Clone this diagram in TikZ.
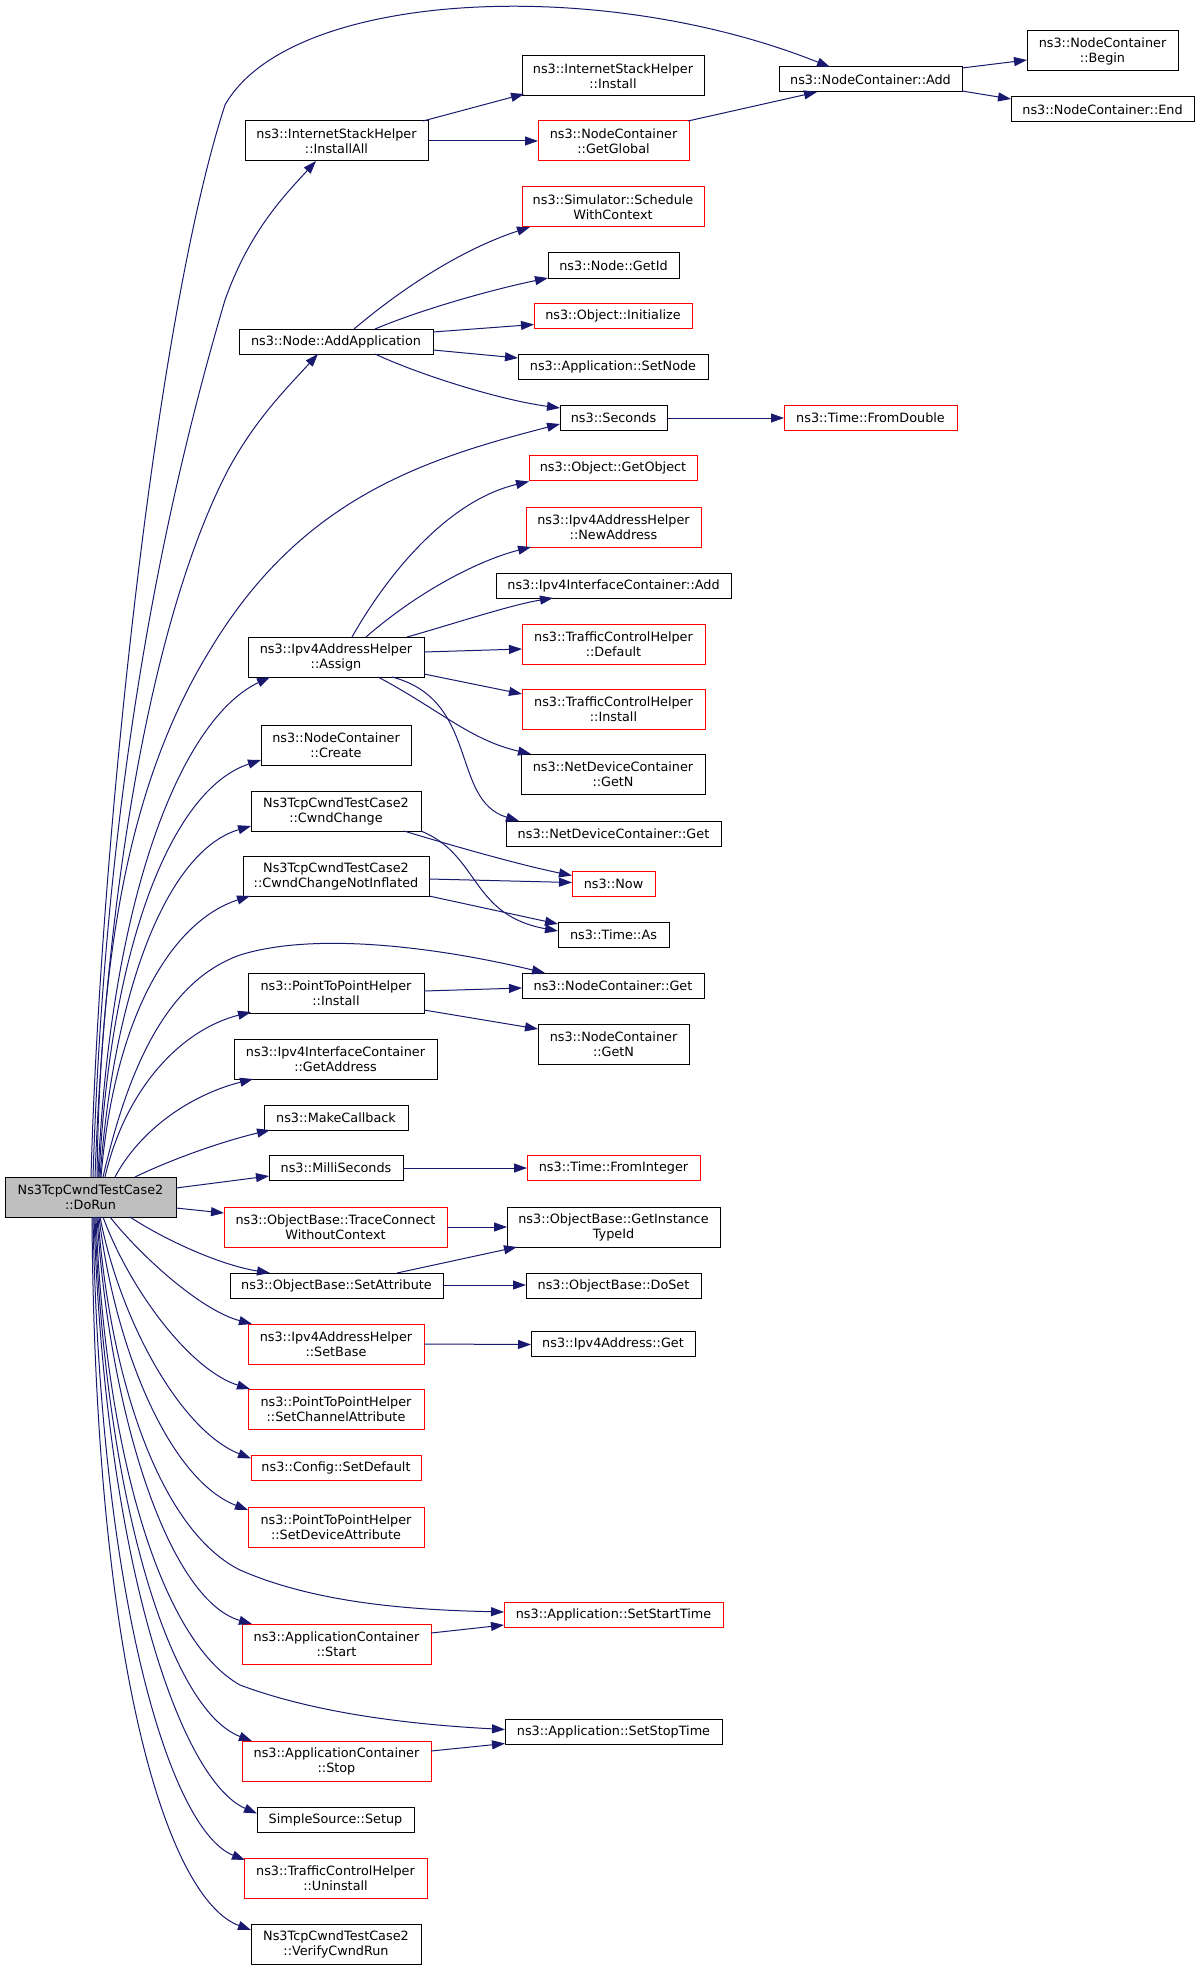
\documentclass[tikz,border=0pt]{standalone}
\usepackage{fontspec}
\setmainfont{DejaVu Sans}
\usetikzlibrary{arrows.meta}
\definecolor{edgeblue}{HTML}{191970}
\definecolor{boxred}{HTML}{FF0000}
\definecolor{rootgrey}{HTML}{BFBFBF}
\begin{document}
\begin{tikzpicture}[x=1pt,y=-1pt,
  box/.style={draw=black, line width=1pt, inner sep=0pt, outer sep=0pt, align=center,
    font=\fontsize{12.8}{15}\selectfont, fill=white},
  rbox/.style={box, draw=boxred},
  one/.style={minimum height=25pt},
  two/.style={minimum height=40pt},
  calledge/.style={draw=edgeblue, line width=1pt, -{Triangle[length=13pt,width=9pt]}}]
\fill[white] (0,0) rectangle (1200,1969);
\useasboundingbox (0,0) rectangle (1200,1969);

% nodes
\node[box,one,minimum width=183pt] (isAdd) at (870.5,79.5) {ns3::NodeContainer::Add};
\node[box,two,minimum width=151pt] (ncBegin) at (1102.5,51) {ns3::NodeContainer\\::Begin};
\node[box,one,minimum width=183pt] (ncEnd) at (1102.5,109.5) {ns3::NodeContainer::End};
\node[box,two,minimum width=182pt] (ishInstall) at (613,76) {ns3::InternetStackHelper\\::Install};
\node[box,two,minimum width=183pt] (installAll) at (336.5,141) {ns3::InternetStackHelper\\::InstallAll};
\node[rbox,two,minimum width=151pt] (getGlobal) at (613.5,141) {ns3::NodeContainer\\::GetGlobal};
\node[rbox,two,minimum width=182pt] (schedule) at (613,207) {ns3::Simulator::Schedule\\WithContext};
\node[box,one,minimum width=131pt] (getId) at (613.5,265.5) {ns3::Node::GetId};
\node[rbox,one,minimum width=158pt] (initialize) at (613,316) {ns3::Object::Initialize};
\node[box,one,minimum width=194pt] (addApp) at (336,341.5) {ns3::Node::AddApplication};
\node[box,one,minimum width=190pt] (setNode) at (613,366.5) {ns3::Application::SetNode};
\node[box,one,minimum width=107pt] (seconds) at (613.5,417.5) {ns3::Seconds};
\node[rbox,one,minimum width=173pt] (fromDouble) at (870.5,417.5) {ns3::Time::FromDouble};
\node[rbox,one,minimum width=168pt] (getObject) at (613,468) {ns3::Object::GetObject};
\node[rbox,two,minimum width=175pt] (newAddress) at (613.5,527) {ns3::Ipv4AddressHelper\\::NewAddress};
\node[box,one,minimum width=235pt] (iicAdd) at (613.5,585.5) {ns3::Ipv4InterfaceContainer::Add};
\node[rbox,two,minimum width=183pt] (tchDefault) at (613.5,644) {ns3::TrafficControlHelper\\::Default};
\node[box,two,minimum width=176pt] (assign) at (336,657) {ns3::Ipv4AddressHelper\\::Assign};
\node[rbox,two,minimum width=183pt] (tchInstall) at (613.5,709) {ns3::TrafficControlHelper\\::Install};
\node[box,two,minimum width=150pt] (create) at (336,745) {ns3::NodeContainer\\::Create};
\node[box,two,minimum width=184pt] (ndcGetN) at (613,774) {ns3::NetDeviceContainer\\::GetN};
\node[box,two,minimum width=170pt] (cwnd) at (336,811) {Ns3TcpCwndTestCase2\\::CwndChange};
\node[box,one,minimum width=215pt] (ndcGet) at (613.5,833.5) {ns3::NetDeviceContainer::Get};
\node[box,two,minimum width=186pt] (cwndNI) at (336,876) {Ns3TcpCwndTestCase2\\::CwndChangeNotInflated};
\node[rbox,one,minimum width=83pt] (now) at (613.5,884) {ns3::Now};
\node[box,one,minimum width=111pt] (timeAs) at (613.5,934.5) {ns3::Time::As};
\node[box,one,minimum width=182pt] (ncGet) at (613,985.5) {ns3::NodeContainer::Get};
\node[box,two,minimum width=176pt] (p2pInstall) at (336,993) {ns3::PointToPointHelper\\::Install};
\node[box,two,minimum width=151pt] (ncGetN) at (613.5,1044) {ns3::NodeContainer\\::GetN};
\node[box,two,minimum width=203pt] (getAddress) at (335.5,1059) {ns3::Ipv4InterfaceContainer\\::GetAddress};
\node[box,one,minimum width=144pt] (makeCallback) at (336,1117.5) {ns3::MakeCallback};
\node[box,one,minimum width=134pt] (milli) at (336,1167.5) {ns3::MilliSeconds};
\node[rbox,one,minimum width=173pt] (fromInteger) at (613.5,1167.5) {ns3::Time::FromInteger};
\node[box,two,minimum width=171pt,fill=rootgrey] (dorun) at (90.5,1197) {Ns3TcpCwndTestCase2\\::DoRun};
\node[rbox,two,minimum width=223pt] (traceConnect) at (335.5,1227) {ns3::ObjectBase::TraceConnect\\WithoutContext};
\node[box,two,minimum width=213pt] (getInstance) at (613.5,1227) {ns3::ObjectBase::GetInstance\\TypeId};
\node[box,one,minimum width=213pt] (setAttr) at (336.5,1285.5) {ns3::ObjectBase::SetAttribute};
\node[box,one,minimum width=175pt] (doSet) at (613.5,1285.5) {ns3::ObjectBase::DoSet};
\node[rbox,two,minimum width=176pt] (setBase) at (336,1344) {ns3::Ipv4AddressHelper\\::SetBase};
\node[box,one,minimum width=164pt] (ipv4Get) at (613,1344) {ns3::Ipv4Address::Get};
\node[rbox,two,minimum width=176pt] (setChan) at (336,1409) {ns3::PointToPointHelper\\::SetChannelAttribute};
\node[rbox,one,minimum width=170pt] (setDefault) at (336,1468) {ns3::Config::SetDefault};
\node[rbox,two,minimum width=176pt] (setDev) at (336,1527) {ns3::PointToPointHelper\\::SetDeviceAttribute};
\node[rbox,one,minimum width=219pt] (setStart) at (613.5,1614.5) {ns3::Application::SetStartTime};
\node[rbox,two,minimum width=189pt] (acStart) at (336.5,1644) {ns3::ApplicationContainer\\::Start};
\node[box,one,minimum width=217pt] (setStop) at (613.5,1732) {ns3::Application::SetStopTime};
\node[rbox,two,minimum width=189pt] (acStop) at (336.5,1761) {ns3::ApplicationContainer\\::Stop};
\node[box,one,minimum width=157pt] (setup) at (335.5,1820) {SimpleSource::Setup};
\node[rbox,two,minimum width=183pt] (uninstall) at (335.5,1878) {ns3::TrafficControlHelper\\::Uninstall};
\node[box,two,minimum width=170pt] (verify) at (336,1944) {Ns3TcpCwndTestCase2\\::VerifyCwndRun};

% edges from DoRun
\draw[calledge] ([shift={(86,0)}]dorun.north west) .. controls (100,850) and (155,320) .. (225,105)
  .. controls (290,-10) and (600,-25) .. ([shift={(51,0)}]isAdd.north west);
\draw[calledge] ([shift={(88,0)}]dorun.north west) .. controls (105,800) and (160,520) .. (225,300)
  .. controls (250,230) and (285,195) .. ([shift={(71,40)}]installAll.north west);
\draw[calledge] ([shift={(90,0)}]dorun.north west) .. controls (105,900) and (150,620) .. (228,470)
  .. controls (255,420) and (285,390) .. ([shift={(79,25)}]addApp.north west);
\draw[calledge] ([shift={(92,0)}]dorun.north west) .. controls (100,950) and (130,780) .. (210,650)
  .. controls (300,500) and (420,460) .. ([shift={(0,19)}]seconds.north west);
\draw[calledge] ([shift={(93,0)}]dorun.north west) .. controls (110,900) and (180,720) .. ([shift={(22,40)}]assign.north west);
\draw[calledge] ([shift={(94,0)}]dorun.north west) .. controls (110,950) and (170,790) .. ([shift={(0,35)}]create.north west);
\draw[calledge] ([shift={(95,0)}]dorun.north west) .. controls (115,980) and (170,850) .. ([shift={(0,35)}]cwnd.north west);
\draw[calledge] ([shift={(96,0)}]dorun.north west) .. controls (115,1010) and (175,920) .. ([shift={(7,40)}]cwndNI.north west);
\draw[calledge] ([shift={(98,0)}]dorun.north west) .. controls (130,1060) and (170,980) .. (240,955)
  .. controls (320,930) and (450,950) .. ([shift={(23,0)}]ncGet.north west);
\draw[calledge] ([shift={(100,0)}]dorun.north west) .. controls (125,1090) and (180,1030) .. ([shift={(3,39)}]p2pInstall.north west);
\draw[calledge] ([shift={(110,0)}]dorun.north west) .. controls (140,1130) and (190,1095) .. ([shift={(19,40)}]getAddress.north west);
\draw[calledge] ([shift={(130,0)}]dorun.north west) .. controls (170,1160) and (220,1142) .. ([shift={(6,25)}]makeCallback.north west);
\draw[calledge] ([shift={(171,11)}]dorun.north west) -- ([shift={(0,21)}]milli.north west);
\draw[calledge] ([shift={(171,31)}]dorun.north west) -- ([shift={(0,6)}]traceConnect.north west);
\draw[calledge] ([shift={(125,40)}]dorun.north west) .. controls (165,1240) and (220,1265) .. ([shift={(40,0)}]setAttr.north west);
\draw[calledge] ([shift={(105,40)}]dorun.north west) .. controls (140,1255) and (200,1310) .. ([shift={(4,0)}]setBase.north west);
\draw[calledge] ([shift={(98,40)}]dorun.north west) .. controls (130,1290) and (190,1370) .. ([shift={(2,0)}]setChan.north west);
\draw[calledge] ([shift={(95,40)}]dorun.north west) .. controls (120,1320) and (180,1430) .. ([shift={(0,3)}]setDefault.north west);
\draw[calledge] ([shift={(94,40)}]dorun.north west) .. controls (115,1350) and (170,1480) .. ([shift={(0,3)}]setDev.north west);
\draw[calledge] ([shift={(93,40)}]dorun.north west) .. controls (110,1380) and (160,1530) .. (240,1570)
  .. controls (320,1605) and (420,1610) .. ([shift={(0,10)}]setStart.north west);
\draw[calledge] ([shift={(92,40)}]dorun.north west) .. controls (110,1420) and (170,1600) .. ([shift={(10,0)}]acStart.north west);
\draw[calledge] ([shift={(91,40)}]dorun.north west) .. controls (105,1450) and (160,1640) .. (240,1685)
  .. controls (320,1715) and (420,1725) .. ([shift={(0,10)}]setStop.north west);
\draw[calledge] ([shift={(90,40)}]dorun.north west) .. controls (105,1500) and (170,1710) .. ([shift={(10,0)}]acStop.north west);
\draw[calledge] ([shift={(89,40)}]dorun.north west) .. controls (105,1560) and (180,1780) .. ([shift={(0,6)}]setup.north west);
\draw[calledge] ([shift={(88,40)}]dorun.north west) .. controls (100,1600) and (170,1830) .. ([shift={(1,2)}]uninstall.north west);
\draw[calledge] ([shift={(87,40)}]dorun.north west) .. controls (95,1680) and (170,1900) .. ([shift={(0,6)}]verify.north west);

% other edges
\draw[calledge] ([shift={(178,0)}]installAll.north west) -- ([shift={(2,38)}]ishInstall.north west);
\draw[calledge] ([shift={(183,20)}]installAll.north west) -- ([shift={(0,20)}]getGlobal.north west);
\draw[calledge] ([shift={(150,0)}]getGlobal.north west) -- ([shift={(38,25)}]isAdd.north west);
\draw[calledge] ([shift={(183,1)}]isAdd.north west) -- ([shift={(0,29)}]ncBegin.north west);
\draw[calledge] ([shift={(183,24)}]isAdd.north west) -- ([shift={(0,2)}]ncEnd.north west);
\draw[calledge] ([shift={(115,0)}]addApp.north west) .. controls (400,290) and (460,250) .. ([shift={(8,40)}]schedule.north west);
\draw[calledge] ([shift={(136,0)}]addApp.north west) .. controls (420,310) and (490,290) .. ([shift={(0,25)}]getId.north west);
\draw[calledge] ([shift={(194,3)}]addApp.north west) -- ([shift={(0,21)}]initialize.north west);
\draw[calledge] ([shift={(194,21)}]addApp.north west) -- ([shift={(0,4)}]setNode.north west);
\draw[calledge] ([shift={(136,25)}]addApp.north west) .. controls (420,375) and (500,400) .. ([shift={(0,3)}]seconds.north west);
\draw[calledge] ([shift={(107,13)}]seconds.north west) -- ([shift={(0,13)}]fromDouble.north west);
\draw[calledge] ([shift={(104,0)}]assign.north west) .. controls (390,570) and (450,500) .. ([shift={(0,26)}]getObject.north west);
\draw[calledge] ([shift={(118,0)}]assign.north west) .. controls (420,590) and (480,560) .. ([shift={(5,40)}]newAddress.north west);
\draw[calledge] ([shift={(159,0)}]assign.north west) .. controls (450,625) and (510,605) .. ([shift={(57,25)}]iicAdd.north west);
\draw[calledge] ([shift={(176,15)}]assign.north west) -- ([shift={(0,25)}]tchDefault.north west);
\draw[calledge] ([shift={(176,37)}]assign.north west) -- ([shift={(0,5)}]tchInstall.north west);
\draw[calledge] ([shift={(130,40)}]assign.north west) .. controls (440,710) and (470,740) .. ([shift={(10,0)}]ndcGetN.north west);
\draw[calledge] ([shift={(144,40)}]assign.north west) .. controls (480,700) and (450,800) .. ([shift={(13,0)}]ndcGet.north west);
\draw[calledge] ([shift={(153,40)}]cwnd.north west) .. controls (450,845) and (520,865) .. ([shift={(0,4)}]now.north west);
\draw[calledge] ([shift={(170,40)}]cwnd.north west) .. controls (480,855) and (470,915) .. ([shift={(0,9)}]timeAs.north west);
\draw[calledge] ([shift={(186,23)}]cwndNI.north west) -- ([shift={(0,11)}]now.north west);
\draw[calledge] ([shift={(186,40)}]cwndNI.north west) -- ([shift={(0,2)}]timeAs.north west);
\draw[calledge] ([shift={(176,18)}]p2pInstall.north west) -- ([shift={(0,15)}]ncGet.north west);
\draw[calledge] ([shift={(176,37)}]p2pInstall.north west) -- ([shift={(0,5)}]ncGetN.north west);
\draw[calledge] ([shift={(134,13)}]milli.north west) -- ([shift={(0,13)}]fromInteger.north west);
\draw[calledge] ([shift={(223,20)}]traceConnect.north west) -- ([shift={(0,20)}]getInstance.north west);
\draw[calledge] ([shift={(167,0)}]setAttr.north west) -- ([shift={(10,40)}]getInstance.north west);
\draw[calledge] ([shift={(213,12)}]setAttr.north west) -- ([shift={(0,12)}]doSet.north west);
\draw[calledge] ([shift={(176,20)}]setBase.north west) -- ([shift={(0,13)}]ipv4Get.north west);
\draw[calledge] ([shift={(189,9)}]acStart.north west) -- ([shift={(0,23)}]setStart.north west);
\draw[calledge] ([shift={(189,10)}]acStop.north west) -- ([shift={(0,24)}]setStop.north west);
\end{tikzpicture}
\end{document}
